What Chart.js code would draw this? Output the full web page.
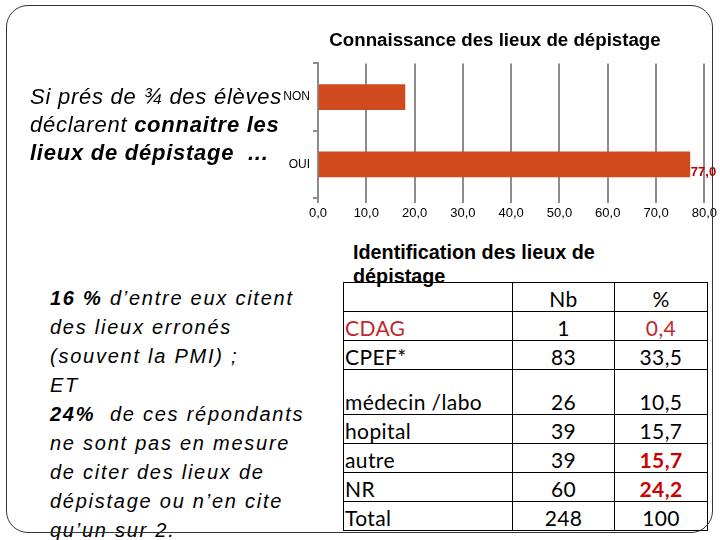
<!DOCTYPE html>
<html>
<head>
<meta charset="utf-8">
<script src="https://cdn.jsdelivr.net/npm/chart.js@4.4.0/dist/chart.umd.min.js"></script>
<style>
  body { margin: 0; width: 720px; height: 540px; background: #fff; position: relative; overflow: hidden; font-family: "Liberation Sans", Arial, sans-serif; }
  .frame { position: absolute; left: 6px; top: 5px; width: 705px; height: 526px; border: 1.5px solid #333; border-radius: 22px; z-index: 5; pointer-events: none; }
  #chartBox { position: absolute; left: 270px; top: 22px; width: 450px; height: 205px; }
  .intro { position: absolute; left: 30px; top: 83px; font-size: 22px; letter-spacing: 0.75px; line-height: 28px; font-style: italic; color: #000; z-index: 3; white-space: nowrap; }
  .note { position: absolute; left: 50px; top: 284px; font-size: 20px; letter-spacing: 1.75px; line-height: 29px; font-style: italic; color: #000; white-space: nowrap; }
  .tblTitle { position: absolute; left: 353px; top: 240px; font-size: 19.8px; line-height: 24px; font-weight: bold; z-index: 2; white-space: nowrap; }
  table { position: absolute; left: 343px; top: 282px; border-collapse: collapse; table-layout: fixed; width: 364px; font-family: Lato, "Open Sans", sans-serif; font-size: 21px; letter-spacing: 0.4px; }
  td { border: 1px solid #000; padding: 0 1px; height: 28px; line-height: 24px; vertical-align: bottom; white-space: nowrap; }
  td.num { text-align: center; }
</style>
</head>
<body>
<div class="frame"></div>

<div class="intro">Si prés de ¾ des élèves<br>déclarent <b>connaitre les<br>lieux de dépistage &nbsp;...</b></div>

<div class="note"><b>16 %</b> d’entre eux citent<br>des lieux erronés<br>(souvent la PMI) ;<br>ET<br><b>24%</b>&nbsp; de ces répondants<br>ne sont pas en mesure<br>de citer des lieux de<br>dépistage ou n’en cite<br>qu’un sur 2.</div>

<div id="chartBox"><canvas id="myChart"></canvas></div>

<div class="tblTitle">Identification des lieux de<br>dépistage</div>
<table id="tbl"></table>

<script>
// bar chart data
const categories = ['NON', 'OUI'];
const values = [18.0, 77.0];
const showLabel = [false, true];
const xTicks = [0, 10, 20, 30, 40, 50, 60, 70, 80];

// table data
const places = ['CDAG', 'CPEF*', 'médecin /labo', 'hopital', 'autre', 'NR', 'Total'];
const counts = [1, 83, 26, 39, 39, 60, 248];
const percents = ['0,4', '33,5', '10,5', '15,7', '15,7', '24,2', '100'];

const fmt = v => v.toFixed(1).replace('.', ',');

const valueLabels = {
    id: 'valueLabels',
    afterDatasetsDraw(chart) {
        const ctx = chart.ctx;
        const meta = chart.getDatasetMeta(0);
        ctx.save();
        ctx.font = 'bold 13px "Liberation Sans", Arial, sans-serif';
        ctx.fillStyle = '#C00000';
        ctx.textBaseline = 'middle';
        meta.data.forEach((bar, i) => {
            if (!showLabel[i]) return;
            ctx.fillText(fmt(values[i]), bar.x + 1, bar.y + 8);
        });
        ctx.restore();
    }
};

const myChart = new Chart(document.getElementById('myChart'), {
    type: 'bar',
    data: {
        labels: categories,
        datasets: [{
            data: values,
            backgroundColor: '#D14A1D',
            barThickness: 25
        }]
    },
    plugins: [valueLabels],
    options: {
        indexAxis: 'y',
        responsive: true,
        maintainAspectRatio: false,
        animation: false,
        layout: { padding: { right: 14, top: 0, bottom: 0, left: 14 } },
        plugins: {
            legend: { display: false },
            tooltip: { enabled: false },
            title: {
                display: true,
                text: 'Connaissance des lieux de dépistage',
                color: '#000',
                font: { family: '"Liberation Sans", Arial, sans-serif', size: 18.7, weight: 'bold' },
                padding: { top: 8, bottom: 11 }
            }
        },
        scales: {
            x: {
                min: 0,
                max: 80,
                afterBuildTicks: s => { s.ticks = xTicks.map(v => ({ value: v })); },
                afterFit: s => { s.height = 29; },
                border: { display: false },
                grid: { color: '#8c8c8c', lineWidth: 2, tickLength: 5 },
                ticks: {
                    color: '#000',
                    padding: 3,
                    maxRotation: 0,
                    font: { family: '"Liberation Sans", Arial, sans-serif', size: 13 },
                    callback: v => fmt(v)
                }
            },
            y: {
                afterFit: s => { s.width = 34; },
                border: { display: true, color: '#8c8c8c', width: 2 },
                grid: { drawOnChartArea: false, color: '#8c8c8c', lineWidth: 2, tickLength: 5, offset: true },
                ticks: {
                    color: '#000',
                    padding: 3,
                    font: { family: '"Liberation Sans", Arial, sans-serif', size: 12 }
                }
            }
        }
    }
});

// build the table
const tbl = document.getElementById('tbl');
const colW = [166, 99, 90];
tbl.innerHTML = '<tr><td style="width:' + colW[0] + 'px"></td><td class="num" style="width:' + colW[1] + 'px">Nb</td><td class="num" style="width:' + colW[2] + 'px">%</td></tr>';
places.forEach((p, i) => {
    const tr = document.createElement('tr');
    let nameStyle = '', pctStyle = '';
    if (i === 0) { nameStyle = 'color:#C0282D'; pctStyle = 'color:#C0282D'; }
    if (i === 4 || i === 5) { pctStyle = 'color:#CC0000;font-weight:bold'; }
    tr.innerHTML = '<td style="' + nameStyle + (i === 2 ? ';height:44px' : '') + '">' + p + '</td>' +
        '<td class="num">' + counts[i] + '</td>' +
        '<td class="num" style="' + pctStyle + '">' + percents[i] + '</td>';
    tbl.appendChild(tr);
});
</script>
</body>
</html>
